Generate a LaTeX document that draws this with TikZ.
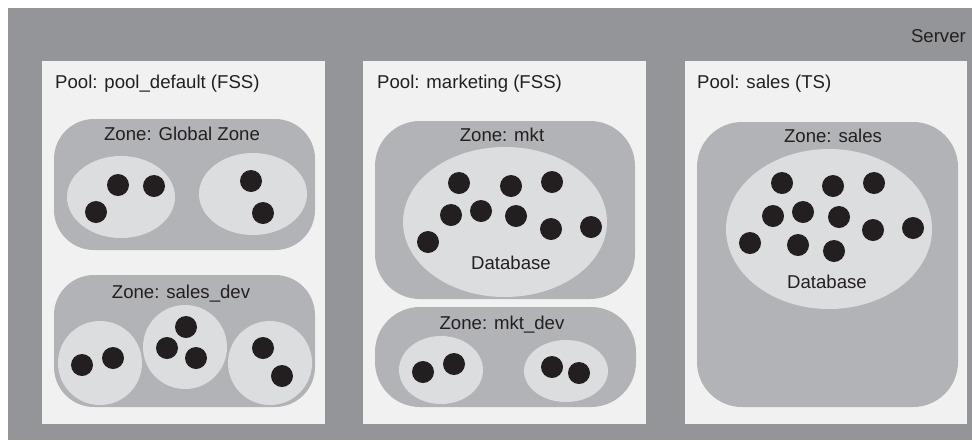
\documentclass[tikz,border=0pt]{standalone}
\usepackage{fontspec}
\setmainfont{Liberation Sans}
\usepackage{tikz}
\definecolor{server gray}{rgb}{0.5765, 0.5843, 0.5961}
\definecolor{pool white}{rgb}{0.9451, 0.9451, 0.9490}
\definecolor{zone gray}{rgb}{0.6941, 0.7020, 0.7137}
\definecolor{db gray}{rgb}{0.8627, 0.8667, 0.8745}
\definecolor{proc black}{rgb}{0.1373, 0.1216, 0.1255}

\tikzset{
	label/.style = {inner sep=0pt, text=proc black, font=\fontsize{18.6}{22}\selectfont},
	zone/.style = {fill=zone gray, rounded corners=#1},
	proc/.style = {fill=proc black}
}

\begin{document}
\begin{tikzpicture}[x=1pt, y=-1pt]
			\useasboundingbox (0, 0) rectangle (972, 440);
			% server
			\fill[server gray] (8, 8) rectangle (972, 440);
			\node[label, anchor=base east] (server) at (966, 42) {Server};
			% pools
			\fill[pool white] (42, 61) rectangle (325, 424);
			\fill[pool white] (363, 61) rectangle (646, 424);
			\fill[pool white] (685, 61) rectangle (967, 424);
			\node[label, anchor=base west] (pool default) at (55, 88) {Pool: pool\_default (FSS)};
			\node[label, anchor=base west] (pool marketing) at (377, 88) {Pool: marketing (FSS)};
			\node[label, anchor=base west] (pool sales) at (697, 88) {Pool: sales (TS)};
			% part for pool_default
			\begin{scope}
				\fill[zone=40pt] (54, 119) rectangle (315, 250);
				\node[label, anchor=base] (global zone) at (182, 140) {Zone: Global Zone};
				\fill[db gray] (121, 197) ellipse (54pt and 41pt);
				\fill[db gray] (253, 194) ellipse (54pt and 41pt);
				\foreach \x/\y in {118/185, 154/186, 96/212, 251/181, 263/213}
					\fill[proc] (\x, \y) circle (11pt);
				\fill[zone=40pt] (54, 275) rectangle (315, 407);
				\node[label, anchor=base] (sales dev) at (181, 298) {Zone: sales\_dev};
				\fill[db gray] (100, 363) circle (42pt);
				\fill[db gray] (185, 347) circle (42pt);
				\fill[db gray] (270, 363) circle (42pt);
				\foreach \x/\y in {82/365, 113/358, 186/327, 167/348, 196/358, 263/348, 282/376}
					\fill[proc] (\x, \y) circle (11pt);
			\end{scope}
			% part for marketing
			\begin{scope}
				\fill[zone=45pt] (375, 121) rectangle (635, 299);
				\node[label, anchor=base] (mkt) at (502, 141) {Zone: mkt};
				\fill[db gray] (505, 222) ellipse (102pt and 75pt);
				\node[label, anchor=base] (mkt db) at (511, 269) {Database};
				\foreach \x/\y in {459/183, 511/186, 552/182, 451/215, 481/211, 516/216, 551/229, 591/227, 428/242}
					\fill[proc] (\x, \y) circle (11pt);
				\fill[zone=45pt] (375, 307) rectangle (636, 407);
				\node[label, anchor=base] (mkt dev) at (502, 329) {Zone: mkt\_dev};
				\fill[db gray] (441, 370) ellipse (42pt and 34pt);
				\fill[db gray] (566, 371) ellipse (42pt and 31pt);
				\foreach \x/\y in {423/372, 454/364, 552/367, 579/373}
					\fill[proc] (\x, \y) circle (11pt);
			\end{scope}
			% part for sales
			\begin{scope}
				\fill[zone=45pt] (697, 122) rectangle (958, 407);
				\node[label, anchor=base] (sales) at (833, 142) {Zone: sales};
				\fill[db gray] (829, 229) ellipse (103pt and 80pt);
				\node[label, anchor=base] (sales db) at (827, 288) {Database};
				\foreach \x/\y in {782/183, 833/186, 874/183, 773/216, 803/212, 839/217, 873/230, 913/228, 750/243, 798/245, 834/251}
					\fill[proc] (\x, \y) circle (11pt);
			\end{scope}
		\end{tikzpicture}
\end{document}
